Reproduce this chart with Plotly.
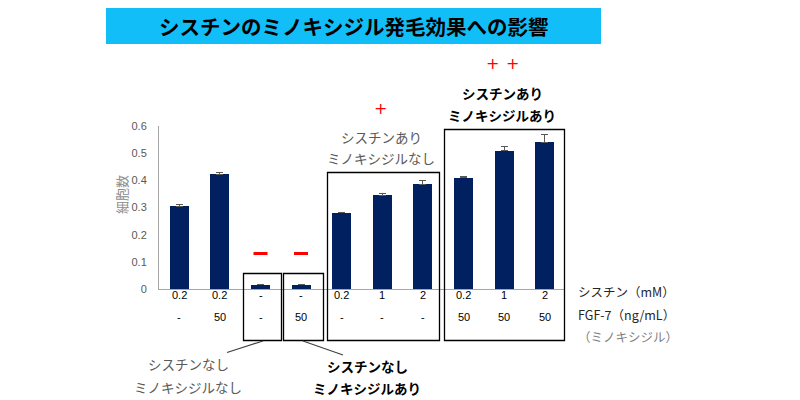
import plotly.graph_objects as go

# ---- data ----
categories = list(range(10))
cystine_labels = ["0.2", "0.2", "-", "-", "0.2", "1", "2", "0.2", "1", "2"]
fgf7_labels = ["-", "50", "-", "50", "-", "-", "-", "50", "50", "50"]
cell_counts = [0.305, 0.423, 0.015, 0.015, 0.280, 0.346, 0.386, 0.409, 0.508, 0.541]
cell_errors = [0.007, 0.006, 0.003, 0.003, 0.003, 0.007, 0.014, 0.006, 0.018, 0.028]
y_ticks = [0, 0.1, 0.2, 0.3, 0.4, 0.5, 0.6]

title_text = "シスチンのミノキシジル発毛効果への影響"
y_title = "細胞数"
row1_name = "シスチン（mM）"
row2_name = "FGF-7（ng/mL）"
row3_name = "（ミノキシジル）"

# ---- layout geometry (pixels) ----
W, H = 800, 400
L, R = 159, 565
T, B = 126, 289


def px(x):
    return (x - L) / (R - L)


def py(y):
    return (B - y) / (B - T)


JP = "Noto Sans CJK JP"
NUM = "Liberation Sans, Noto Sans CJK JP"
GRAY = "#595959"

fig = go.Figure()
fig.add_trace(go.Bar(
    x=categories, y=cell_counts, width=0.47,
    marker=dict(color="#002060", line=dict(width=0)),
    error_y=dict(type="data", array=cell_errors, arrayminus=[0] * len(cell_errors),
                 symmetric=False, color=GRAY, thickness=1, width=3.5),
))

ann = []
shapes = []

# title bar
shapes.append(dict(type="rect", xref="paper", yref="paper",
                   x0=px(106), x1=px(601), y0=py(8), y1=py(44),
                   fillcolor="#12BEF8", line=dict(width=0), layer="below"))
ann.append(dict(text=f"<b>{title_text}</b>", xref="paper", yref="paper",
                x=px(354), y=py(26), showarrow=False, xanchor="center", yanchor="middle",
                font=dict(family=JP, size=20.5, color="black")))

# row labels under bars
for i, (a, b) in enumerate(zip(cystine_labels, fgf7_labels)):
    ann.append(dict(text=a, xref="x", yref="paper", x=categories[i], y=py(302.5),
                    showarrow=False, font=dict(family=NUM, size=11, color="black")))
    ann.append(dict(text=b, xref="x", yref="paper", x=categories[i], y=py(325),
                    showarrow=False, font=dict(family=NUM, size=11, color="black")))

ann.append(dict(text=row1_name, xref="paper", yref="paper", x=px(576), y=py(303),
                xanchor="left", showarrow=False, font=dict(family=JP, size=12.5, color="#262626")))
ann.append(dict(text=row2_name, xref="paper", yref="paper", x=px(576), y=py(326),
                xanchor="left", showarrow=False, font=dict(family=JP, size=12.5, color="#262626")))
ann.append(dict(text=row3_name, xref="paper", yref="paper", x=px(576), y=py(348),
                xanchor="left", showarrow=False, font=dict(family=JP, size=12.5, color="#7F7F7F")))

# group boxes
boxes = [(243.5, 281.5, 273.5), (283.5, 323.5, 273.5), (327.5, 439.5, 172.5), (444.5, 564.5, 129.5)]
for x0, x1, y0 in boxes:
    shapes.append(dict(type="rect", xref="paper", yref="paper",
                       x0=px(x0), x1=px(x1), y0=py(y0), y1=py(340.5),
                       line=dict(color="black", width=1.3)))

# connector lines
shapes.append(dict(type="line", xref="paper", yref="paper", x0=px(263), y0=py(341),
                   x1=px(227), y1=py(352.5), line=dict(color="#404040", width=1.2)))
shapes.append(dict(type="line", xref="paper", yref="paper", x0=px(303), y0=py(341),
                   x1=px(343), y1=py(355), line=dict(color="#404040", width=1.2)))

# group texts
def label(text, x, y, bold=False, color=GRAY):
    t = f"<b>{text}</b>" if bold else text
    ann.append(dict(text=t, xref="paper", yref="paper", x=px(x), y=py(y),
                    showarrow=False, xanchor="center", yanchor="middle",
                    font=dict(family=JP, size=13.5, color=color)))

label("シスチンなし", 188, 364)
label("ミノキシジルなし", 188, 387)
label("シスチンなし", 367, 366, bold=True, color="black")
label("ミノキシジルあり", 367, 388, bold=True, color="black")
label("シスチンあり", 381, 137)
label("ミノキシジルなし", 381, 158)
label("シスチンあり", 502, 93, bold=True, color="black")
label("ミノキシジルあり", 502, 115, bold=True, color="black")

# red marks
for x, y in [(380, 108), (492, 64), (512, 64)]:
    ann.append(dict(text="+", xref="paper", yref="paper", x=px(x), y=py(y),
                    showarrow=False, xanchor="center", yanchor="middle",
                    font=dict(family="DejaVu Sans", size=16, color="#FF0000")))
for xc in [260.5, 301]:
    shapes.append(dict(type="line", xref="paper", yref="paper",
                       x0=px(xc - 7), x1=px(xc + 7), y0=py(253.5), y1=py(253.5),
                       line=dict(color="#FF0000", width=3)))

# y title
ann.append(dict(text=y_title, xref="paper", yref="paper", x=px(121), y=py(195),
                showarrow=False, textangle=-90, xanchor="center", yanchor="middle",
                font=dict(family=JP, size=13, color="#8C8C8C")))

fig.update_layout(
    width=W, height=H,
    margin=dict(l=L, r=W - R, t=T, b=H - B, pad=0),
    paper_bgcolor="white", plot_bgcolor="white",
    showlegend=False,
    annotations=ann, shapes=shapes,
    bargap=0,
    xaxis=dict(range=[-0.5, 9.5], showticklabels=False, ticks="", showgrid=False,
               zeroline=False, showline=True, linecolor="#A6A6A6", linewidth=1),
    yaxis=dict(range=[0, 0.6], tickvals=y_ticks, ticktext=[f"{v:g}" for v in y_ticks],
               showgrid=False, zeroline=False, showline=True, linecolor="#A6A6A6",
               linewidth=1, ticks="", ticklabelstandoff=9,
               tickfont=dict(family=NUM, size=11, color=GRAY)),
)

fig.write_html("out.html")
